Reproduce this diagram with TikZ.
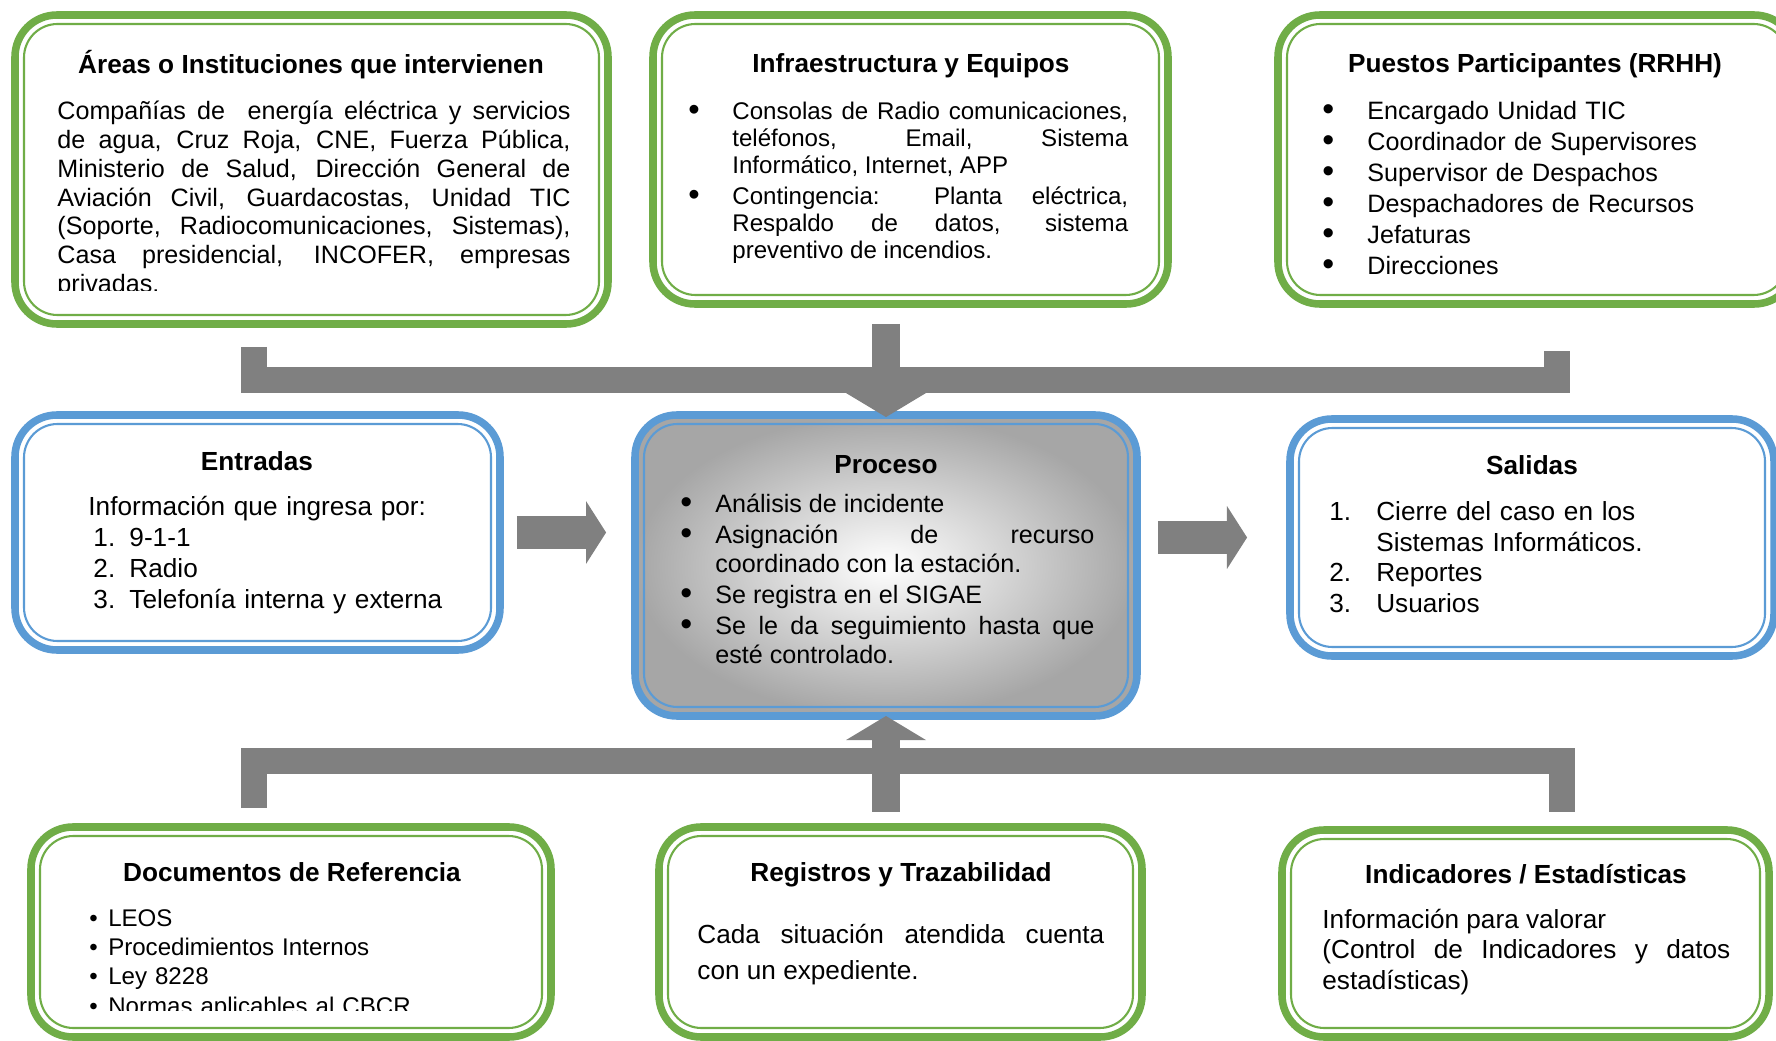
\documentclass[tikz,border=0pt]{standalone}
\usepackage{fontspec}
\setmainfont{Liberation Sans}
\usetikzlibrary{arrows.meta, positioning, fit, calc}
\definecolor{boxgreen}{RGB}{112,173,71}
\definecolor{boxblue}{RGB}{91,155,213}
\definecolor{arrowgray}{RGB}{128,128,128}
\definecolor{procgray}{RGB}{166,166,166}
\newcommand{\mkitem}[2]{\hangindent=#1\hangafter=1\noindent\makebox[#1][l]{#2}}
\newcommand{\bigbul}{\raisebox{-0.4pt}{\scalebox{1.35}{\textbullet}}}

\begin{document}
\begin{tikzpicture}[
    x=0.4775pt, y=-0.4775pt,
    panel/.style={draw=#1, line width=3.6pt, rounded corners=20pt, inner sep=0pt, outer sep=0pt},
    head/.style={anchor=base, inner sep=0pt, font=\bfseries\fontsize{12.5}{15}\selectfont},
    body/.style={anchor=base west, inner sep=0pt, align=justify},
    bar/.style={draw=arrowgray, line width=12.4pt, line join=miter},
    fatarrow/.style={draw=arrowgray, line width=13.4pt, -{Triangle[width=37.7pt, length=11.5pt]}},
    sidearrow/.style={draw=arrowgray, line width=15.3pt, -{Triangle[width=29.6pt, length=9.6pt]}}
]
    \clip (0,0) rectangle (1776,1041);
    \fill[white] (0,0) rectangle (1776,1041);

    % Boxes
    \node[panel=boxgreen, fit={(15,15) (608,324)}] (areas) {};
    \node[panel=boxgreen, fit={(653,15) (1168,304)}] (infra) {};
    \node[panel=boxgreen, fit={(1278,15) (1796,304)}] (puestos) {};
    \node[panel=boxblue, fit={(15,415) (500,650)}] (entr) {};
    \node[panel=boxblue, fit={(635,415) (1137,716)}, inner color=white, outer color=procgray] (proc) {};
    \node[panel=boxblue, fit={(1290,419) (1774,656)}] (sal) {};
    \node[panel=boxgreen, fit={(31,827) (551,1037)}] (docs) {};
    \node[panel=boxgreen, fit={(659,827) (1142,1037)}] (regis) {};
    \node[panel=boxgreen, fit={(1282,830) (1769,1037)}] (indic) {};

    % Thin inner borders
    \foreach \n/\c in {areas/boxgreen, infra/boxgreen, puestos/boxgreen, entr/boxblue, proc/boxblue, sal/boxblue, docs/boxgreen, regis/boxgreen, indic/boxgreen}
        \draw[\c, line width=1pt, rounded corners=16pt] ([shift={(9,9)}]\n.north west) rectangle ([shift={(-9,-9)}]\n.south east);

    \begin{scope}[yshift=-1.6pt]
    % Titles
    \node[head] (areashd) at (311,70) {Áreas o Instituciones que intervienen};
    \node[head] (infrahd) at (911,69) {Infraestructura y Equipos};
    \node[head] (puestoshd) at (1535,69) {Puestos Participantes (RRHH)};
    \node[head] (entrhd) at (257,467) {Entradas};
    \node[head] (prochd) at (886,470) {Proceso};
    \node[head] (salhd) at (1532,471) {Salidas};
    \node[head] (docshd) at (292,878) {Documentos de Referencia};
    \node[head] (regishd) at (901,878) {Registros y Trazabilidad};
    \node[head] (indichd) at (1526,880) {Indicadores / Estadísticas};

    % Texts
    \begin{scope}
        \clip (50,90) rectangle (580,287);
        \node[body, text width=245pt, font=\fontsize{12}{13.8}\selectfont] (areastxt) at (57,116) {Compañías de\ \ energía eléctrica y servicios\linebreak de agua, Cruz Roja, CNE, Fuerza Pública,\linebreak Ministerio de Salud, Dirección General de\linebreak Aviación Civil, Guardacostas, Unidad TIC\linebreak (Soporte, Radiocomunicaciones, Sistemas),\linebreak Casa presidencial, INCOFER, empresas\linebreak privadas.};
    \end{scope}
    \node[body, text width=210pt, font=\fontsize{11.5}{12.9}\selectfont] (infratxt) at (688,116) {\setlength{\parskip}{1.9pt}\mkitem{21pt}{\bigbul}Consolas de Radio comunicaciones,\linebreak teléfonos, Email, Sistema\linebreak Informático, Internet, APP\par\mkitem{21pt}{\bigbul}Contingencia: Planta eléctrica,\linebreak Respaldo de datos, sistema\linebreak preventivo de incendios.\par};
    \node[body, text width=200pt, align=left, font=\fontsize{12}{14.8}\selectfont] (puestostxt) at (1322,116) {\mkitem{21.5pt}{\bigbul}Encargado Unidad TIC\par\mkitem{21.5pt}{\bigbul}Coordinador de Supervisores\par\mkitem{21.5pt}{\bigbul}Supervisor de Despachos\par\mkitem{21.5pt}{\bigbul}Despachadores de Recursos\par\mkitem{21.5pt}{\bigbul}Jefaturas\par\mkitem{21.5pt}{\bigbul}Direcciones\par};
    \node[body, text width=200pt, align=left, font=\fontsize{12.5}{14.8}\selectfont] (entrtxt) at (88,512) {Información que ingresa por:\par\mkitem{19.6pt}{\hspace{2.4pt}1.}9-1-1\par\mkitem{19.6pt}{\hspace{2.4pt}2.}Radio\par\mkitem{19.6pt}{\hspace{2.4pt}3.}Telefonía interna y externa\par};
    \node[body, text width=197.7pt, font=\fontsize{12}{13.85}\selectfont] (proctxt) at (680,509) {\setlength{\parskip}{1pt}\mkitem{16.7pt}{\bigbul}Análisis de incidente\par\mkitem{16.7pt}{\bigbul}Asignación de recurso\linebreak coordinado con la estación.\par\mkitem{16.7pt}{\bigbul}Se registra en el SIGAE\par\mkitem{16.7pt}{\bigbul}Se le da seguimiento hasta que\linebreak esté controlado.\par};
    \node[body, text width=200pt, align=left, font=\fontsize{12.5}{14.7}\selectfont] (saltxt) at (1329,517) {\mkitem{22.4pt}{1.}Cierre del caso en los\newline Sistemas Informáticos.\par\mkitem{22.4pt}{2.}Reportes\par\mkitem{22.4pt}{3.}Usuarios\par};
    \begin{scope}
        \clip (80,890) rectangle (540,1007);
        \node[body, text width=200pt, align=left, font=\fontsize{11.5}{14}\selectfont] (docstxt) at (89,923) {\mkitem{9pt}{\textbullet}LEOS\par\mkitem{9pt}{\textbullet}Procedimientos Internos\par\mkitem{9pt}{\textbullet}Ley 8228\par\mkitem{9pt}{\textbullet}Normas aplicables al CBCR\par};
    \end{scope}
    \node[body, text width=194.3pt, font=\fontsize{12.5}{17.2}\selectfont] (registxt) at (697,940) {Cada situación atendida cuenta\linebreak con un expediente.};
    \node[body, text width=194.8pt, font=\fontsize{12.5}{14.6}\selectfont] (indictxt) at (1322,925) {Información para valorar\newline (Control de Indicadores y datos\linebreak estadísticas)};
    \end{scope}

    % Connections top
    \coordinate (tl) at (254,347);
    \coordinate (tr) at (1557,351);
    \coordinate (tbar) at (893,380);
    \draw[bar] (tl) |- (tbar) -| (tr);
    \draw[fatarrow, shorten <=9.5pt, shorten >=-1pt] (proc.north |- infra.south) -- (proc.north);

    % Connections bottom
    \coordinate (bl) at (254,808);
    \coordinate (br) at (1562,812);
    \coordinate (bbar) at (892,761);
    \draw[bar] (bl) |- (bbar) -| (br);
    \draw[fatarrow, shorten <=7.2pt] (proc.south |- regis.north) -- (proc.south);

    % Connections sides
    \draw[sidearrow, shorten <=8.1pt, shorten >=13.8pt] (entr.east) -- (entr.east -| proc.west);
    \draw[sidearrow, shorten <=10pt, shorten >=20.5pt] (proc.east |- sal.west) -- (sal.west);
\end{tikzpicture}
\end{document}
